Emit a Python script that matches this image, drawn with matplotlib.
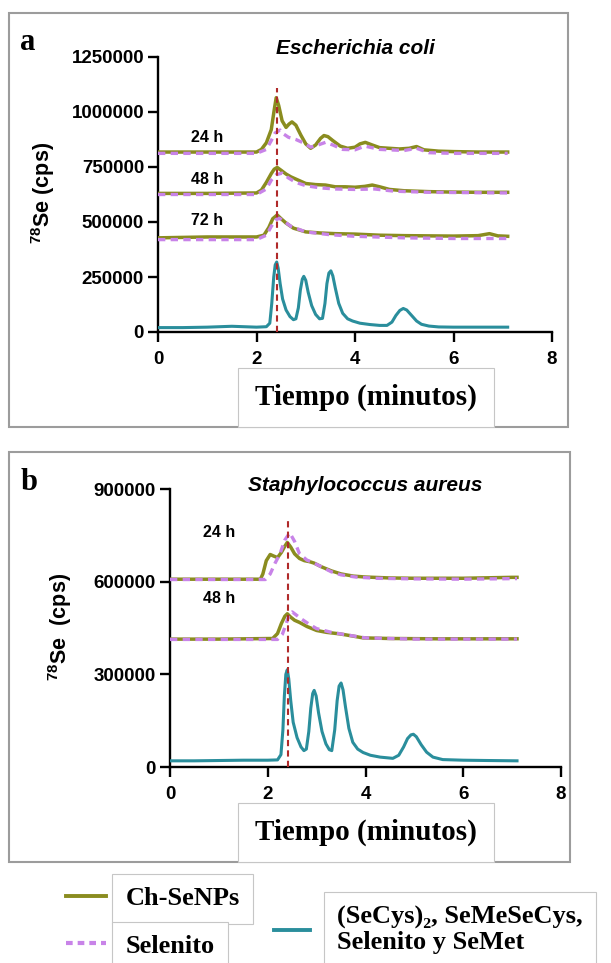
import matplotlib
matplotlib.use('Agg')
import matplotlib.pyplot as plt
from matplotlib.patches import Rectangle
from matplotlib.lines import Line2D

plt.rcParams['font.family'] = ['Liberation Sans', 'DejaVu Sans']
plt.rcParams['font.weight'] = 'bold'
plt.rcParams['mathtext.fontset'] = 'custom'
plt.rcParams['mathtext.rm'] = 'Liberation Sans:bold'
plt.rcParams['mathtext.default'] = 'rm'

OLIVE = '#8a8c1f'
VIOLET = '#c883e8'
TEAL = '#2a8e9c'
RED = '#b02a2a'
SERIF = ['Liberation Serif', 'DejaVu Serif']

W, H = 611, 963

# ---------------- panel a : Escherichia coli ----------------
mix_a_x = [0, 0.5, 1.0, 1.5, 2.0, 2.2, 2.27, 2.31, 2.35, 2.38, 2.41, 2.44, 2.48, 2.53, 2.6, 2.68,
           2.75, 2.8, 2.85, 2.89, 2.93, 2.96, 3.0, 3.05, 3.12, 3.2, 3.28, 3.34, 3.39, 3.43, 3.47,
           3.51, 3.55, 3.6, 3.67, 3.75, 3.85, 3.95, 4.1, 4.3, 4.5, 4.65, 4.75, 4.83, 4.91, 4.98,
           5.05, 5.15, 5.25, 5.35, 5.5, 5.7, 6.0, 6.5, 7.1]
mix_a_y = [20000, 20000, 22000, 26000, 22000, 24000, 40000, 130000, 250000, 305000, 318000, 290000,
           220000, 150000, 100000, 70000, 56000, 60000, 110000, 190000, 240000, 253000, 235000,
           180000, 120000, 80000, 60000, 62000, 130000, 220000, 268000, 278000, 255000, 200000,
           130000, 85000, 60000, 50000, 40000, 34000, 30000, 30000, 45000, 75000, 98000, 107000,
           100000, 75000, 50000, 35000, 27000, 23000, 22000, 22000, 22000]

ch24_a_x = [0, 1, 2.0, 2.1, 2.2, 2.3, 2.36, 2.40, 2.45, 2.52, 2.6, 2.66, 2.72, 2.8, 2.9, 3.0, 3.1, 3.2,
            3.3, 3.37, 3.45, 3.55, 3.7, 3.85, 4.0, 4.1, 4.21, 4.35, 4.5, 4.7, 4.9, 5.1, 5.25, 5.4, 5.7,
            6.0, 6.5, 7.1]
ch24_a_y = [818000, 818000, 818000, 830000, 860000, 920000, 1010000, 1065000, 1030000, 960000, 930000,
            945000, 955000, 940000, 895000, 855000, 835000, 850000, 880000, 893000, 888000, 870000,
            845000, 835000, 840000, 855000, 862000, 850000, 838000, 835000, 832000, 835000, 843000,
            828000, 822000, 820000, 818000, 818000]
se24_a_x = [0, 2.0, 2.2, 2.3, 2.38, 2.48, 2.55, 2.65, 2.8, 2.95, 3.1, 3.25, 3.4, 3.55, 3.75, 4.0, 4.2,
            4.5, 5.0, 5.25, 5.5, 6.0, 7.1]
se24_a_y = [812000, 812000, 830000, 870000, 905000, 918000, 900000, 885000, 875000, 860000, 840000,
            850000, 862000, 850000, 830000, 828000, 845000, 830000, 825000, 835000, 815000, 812000,
            812000]

ch48_a_x = [0, 1, 2.0, 2.1, 2.2, 2.3, 2.36, 2.42, 2.5, 2.6, 2.7, 2.85, 3.0, 3.2, 3.4, 3.6, 3.8, 4.0,
            4.2, 4.35, 4.5, 4.7, 5.0, 5.5, 6.0, 6.5, 7.1]
ch48_a_y = [630000, 630000, 632000, 645000, 680000, 720000, 740000, 748000, 735000, 718000, 705000,
            690000, 675000, 670000, 668000, 660000, 660000, 658000, 662000, 668000, 660000, 648000,
            642000, 638000, 636000, 635000, 635000]
se48_a_x = [0, 2.0, 2.2, 2.3, 2.4, 2.52, 2.65, 2.8, 3.0, 3.3, 3.6, 4.0, 4.4, 4.8, 5.5, 7.1]
se48_a_y = [625000, 625000, 650000, 690000, 715000, 722000, 700000, 680000, 665000, 655000, 650000,
            648000, 650000, 640000, 635000, 632000]

ch72_a_x = [0, 1, 2.0, 2.15, 2.25, 2.33, 2.42, 2.5, 2.6, 2.75, 3.0, 3.3, 3.6, 4.0, 4.5, 5.0, 5.5, 6.0,
            6.5, 6.73, 6.9, 7.1]
ch72_a_y = [428000, 432000, 432000, 440000, 475000, 515000, 532000, 515000, 495000, 472000, 455000,
            450000, 447000, 445000, 440000, 438000, 437000, 436000, 438000, 447000, 437000, 435000]
se72_a_x = [0, 2.0, 2.2, 2.3, 2.38, 2.46, 2.55, 2.7, 3.0, 3.5, 4.0, 5.0, 6.0, 7.1]
se72_a_y = [420000, 420000, 440000, 480000, 508000, 517000, 505000, 480000, 455000, 442000, 435000,
            428000, 425000, 425000]

hours_a = ['24 h', '48 h', '72 h']
hours_a_y = [886000, 695000, 509000]
rt_a, rt_a_top = 2.42, 1110000

# ---------------- panel b : Staphylococcus aureus ----------------
mix_b_x = [0, 0.5, 1.0, 1.5, 2.0, 2.2, 2.27, 2.31, 2.34, 2.37, 2.40, 2.43, 2.47, 2.52, 2.6, 2.68,
           2.74, 2.79, 2.84, 2.88, 2.92, 2.95, 2.99, 3.04, 3.11, 3.19, 3.26, 3.31, 3.37, 3.42, 3.46,
           3.5, 3.54, 3.59, 3.66, 3.74, 3.84, 3.95, 4.1, 4.3, 4.56, 4.68, 4.78, 4.86, 4.93, 4.98,
           5.04, 5.14, 5.25, 5.38, 5.58, 6.0, 6.5, 7.1]
mix_b_y = [20000, 20000, 21000, 22000, 22000, 23000, 40000, 120000, 230000, 300000, 315000, 285000,
           215000, 145000, 95000, 65000, 53000, 58000, 115000, 190000, 238000, 248000, 230000,
           175000, 115000, 75000, 56000, 53000, 120000, 215000, 262000, 272000, 250000, 195000,
           125000, 80000, 58000, 47000, 38000, 32000, 28000, 38000, 65000, 92000, 104000, 106000,
           98000, 72000, 48000, 32000, 24000, 22000, 21000, 20000]

ch24_b_x = [0, 1, 1.85, 1.9, 1.97, 2.05, 2.12, 2.2, 2.28, 2.35, 2.40, 2.47, 2.55, 2.65, 2.75, 2.85,
            2.95, 3.1, 3.3, 3.5, 3.75, 4.0, 4.5, 5.0, 6.0, 7.0, 7.1]
ch24_b_y = [608000, 608000, 608000, 625000, 668000, 688000, 683000, 678000, 695000, 715000, 727000,
            712000, 690000, 675000, 668000, 665000, 660000, 648000, 635000, 625000, 618000, 615000,
            612000, 611000, 611000, 614000, 614000]
se24_b_x = [0, 1.95, 2.05, 2.15, 2.25, 2.35, 2.45, 2.55, 2.65, 2.8, 2.95, 3.1, 3.3, 3.5, 3.8, 4.2,
            5.0, 6.0, 7.1]
se24_b_y = [607000, 607000, 625000, 660000, 690000, 735000, 758000, 730000, 690000, 670000, 660000,
            648000, 632000, 622000, 615000, 611000, 609000, 608000, 610000]

ch48_b_x = [0, 1, 2.1, 2.2, 2.28, 2.35, 2.40, 2.47, 2.55, 2.65, 2.8, 3.0, 3.2, 3.47, 3.7, 3.95, 4.5,
            5.5, 7.1]
ch48_b_y = [414000, 414000, 416000, 432000, 465000, 488000, 496000, 485000, 475000, 468000, 455000,
            442000, 436000, 431000, 425000, 418000, 416000, 415000, 415000]
se48_b_x = [0, 2.2, 2.3, 2.38, 2.44, 2.5, 2.6, 2.7, 2.85, 3.0, 3.3, 3.6, 4.0, 5.0, 7.1]
se48_b_y = [413000, 413000, 430000, 465000, 495000, 502000, 490000, 478000, 462000, 448000, 436000,
            428000, 418000, 414000, 414000]

hours_b = ['24 h', '48 h']
hours_b_y = [760000, 545000]
rt_b, rt_b_top = 2.42, 795000

x_ticks = [0, 2, 4, 6, 8]
y_ticks_a = [0, 250000, 500000, 750000, 1000000, 1250000]
y_ticks_b = [0, 300000, 600000, 900000]


def px_rect(x0, y0, x1, y1):
    # pixel box (top-left origin) -> figure fraction
    return (x0 / W, 1 - y1 / H, (x1 - x0) / W, (y1 - y0) / H)


def add_box(x0, y0, x1, y1, **kw):
    r = px_rect(x0, y0, x1, y1)
    fig.patches.append(Rectangle(r[:2], r[2], r[3], transform=fig.transFigure, **kw))


def style_axes(ax, yticks):
    for s in ['top', 'right']:
        ax.spines[s].set_visible(False)
    for s in ['left', 'bottom']:
        ax.spines[s].set_linewidth(1.7)
    ax.set_xlim(0, 8)
    ax.set_ylim(0, yticks[-1])
    ax.set_xticks(x_ticks)
    ax.set_yticks(yticks)
    ax.set_yticklabels([str(v) for v in yticks])
    ax.tick_params(axis='both', length=7, width=1.7, labelsize=13.5)
    ax.tick_params(axis='x', pad=7)
    ax.tick_params(axis='y', pad=3)
    ax.spines['left'].set_bounds(0, yticks[-1])


def draw_panel(ax, mix, pairs, hours, hours_y, rt, rt_top, yticks):
    ax.plot(mix[0], mix[1], color=TEAL, lw=2.2, zorder=3, solid_joinstyle='round')
    for ch, se in pairs:
        ax.plot(ch[0], ch[1], color=OLIVE, lw=2.5, zorder=3, solid_joinstyle='round')
        ax.plot(se[0], se[1], color=VIOLET, lw=2.4, ls=(0, (2.2, 1.6)), zorder=4)
    ax.vlines(rt, 0, rt_top, colors=RED, linestyles=(0, (3, 2)), lw=1.5, zorder=5)
    for lab, yy in zip(hours, hours_y):
        ax.text(1.0, yy, lab, ha='center', va='center', fontsize=11.5, fontweight='bold')
    style_axes(ax, yticks)


fig = plt.figure(figsize=(W / 100, H / 100), dpi=100)

# panel frames
add_box(9, 13, 568, 427, fill=False, ec='#9c9c9c', lw=1.5)
add_box(9, 452, 570, 862, fill=False, ec='#9c9c9c', lw=1.5)

ax_a = fig.add_axes(px_rect(158, 57, 552, 332))
draw_panel(ax_a, (mix_a_x, mix_a_y),
           [((ch24_a_x, ch24_a_y), (se24_a_x, se24_a_y)),
            ((ch48_a_x, ch48_a_y), (se48_a_x, se48_a_y)),
            ((ch72_a_x, ch72_a_y), (se72_a_x, se72_a_y))],
           hours_a, hours_a_y, rt_a, rt_a_top, y_ticks_a)
ax_a.text(4.0, 1290000, 'Escherichia coli', ha='center', va='center', fontsize=15,
          fontweight='bold', style='italic', clip_on=False)

ax_b = fig.add_axes(px_rect(170, 489, 561, 767))
draw_panel(ax_b, (mix_b_x, mix_b_y),
           [((ch24_b_x, ch24_b_y), (se24_b_x, se24_b_y)),
            ((ch48_b_x, ch48_b_y), (se48_b_x, se48_b_y))],
           hours_b, hours_b_y, rt_b, rt_b_top, y_ticks_b)
ax_b.text(4.0, 910000, 'Staphylococcus aureus', ha='center', va='center', fontsize=15,
          fontweight='bold', style='italic', clip_on=False)

# y labels
fig.text(43 / W, 1 - 193 / H, r'$^{78}$Se (cps)', rotation=90, ha='center', va='center',
         fontsize=15.5, fontweight='bold')
fig.text(60 / W, 1 - 627 / H, r'$^{78}$Se  (cps)', rotation=90, ha='center', va='center',
         fontsize=15.5, fontweight='bold')

# panel letters
fig.text(28 / W, 1 - 42 / H, 'a', ha='center', va='center', fontsize=22, fontweight='bold',
         family=SERIF)
fig.text(29 / W, 1 - 483 / H, 'b', ha='center', va='center', fontsize=22, fontweight='bold',
         family=SERIF)

# x label boxes
for top, bot in [(368, 427), (803, 862)]:
    add_box(238, top, 494, bot, fc='white', ec='#c6c6c6', lw=0.8, zorder=5)
    fig.text(366 / W, 1 - (top + bot) / 2 / H, 'Tiempo (minutos)', ha='center', va='center',
             fontsize=21, fontweight='bold', family=SERIF, zorder=6)

# legend
h1 = [Line2D([], [], color=OLIVE, lw=2.8),
      Line2D([], [], color=VIOLET, lw=3, ls=(0, (1.6, 1.2)))]
leg1 = fig.legend(h1, ['Ch-SeNPs', 'Selenito'], loc='upper left',
                  bbox_to_anchor=(66 / W, 1 - 887 / H), frameon=False, borderpad=0,
                  borderaxespad=0, handlelength=1.5, handletextpad=0.75, labelspacing=0.9,
                  prop={'family': SERIF, 'weight': 'bold', 'size': 19})
for t in leg1.get_texts():
    t.set_bbox(dict(boxstyle='square,pad=0.5', fc='white', ec='#c6c6c6', lw=0.8))

h2 = [Line2D([], [], color=TEAL, lw=2.8)]
leg2 = fig.legend(h2, ['(SeCys)\u2082, SeMeSeCys,\nSelenito y SeMet'], loc='upper left',
                  bbox_to_anchor=(274 / W, 1 - 906 / H), frameon=False, borderpad=0,
                  borderaxespad=0, handlelength=1.35, handletextpad=1.05,
                  prop={'family': SERIF, 'weight': 'bold', 'size': 19})
for t in leg2.get_texts():
    t.set_linespacing(1.1)
    t.set_bbox(dict(boxstyle='square,pad=0.5', fc='white', ec='#c6c6c6', lw=0.8))

fig.savefig('out.png', dpi=100)
